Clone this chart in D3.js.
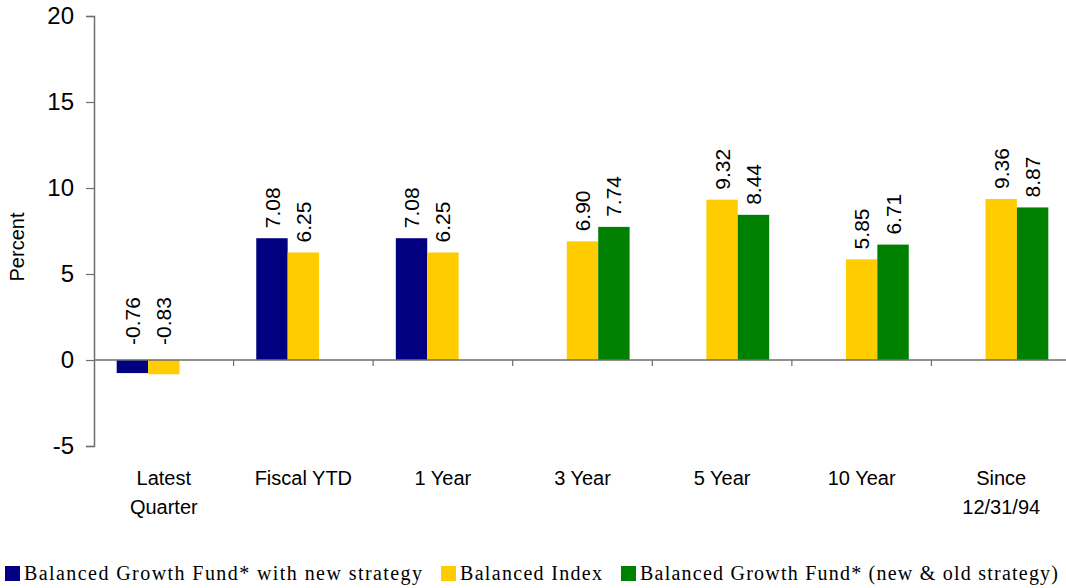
<!DOCTYPE html>
<html>
<head>
<meta charset="utf-8">
<script src="https://cdn.jsdelivr.net/npm/d3@7"></script>
<style>
  html, body { margin: 0; padding: 0; background: #fff; }
  svg { display: block; }
</style>
</head>
<body>
<svg id="chart" width="1066" height="588"></svg>
<script>
// Periods shown along the x axis (multi-line labels split on "\n")
const categories = ["Latest\nQuarter", "Fiscal YTD", "1 Year", "3 Year", "5 Year", "10 Year", "Since\n12/31/94"];

// Series names, colours and returns (null = no bar for that period)
const seriesNames = [
  "Balanced Growth Fund* with new strategy",
  "Balanced Index",
  "Balanced Growth Fund* (new & old strategy)"
];
const seriesColors = ["#000080", "#FFCC00", "#008000"];
const fundNewStrategy = [-0.76, 7.08, 7.08, null, null, null, null];
const balancedIndex   = [-0.83, 6.25, 6.25, 6.90, 9.32, 5.85, 9.36];
const fundNewAndOld   = [null, null, null, 7.74, 8.44, 6.71, 8.87];
const seriesValues = [fundNewStrategy, balancedIndex, fundNewAndOld];

const yTicks = [-5, 0, 5, 10, 15, 20];

const svg = d3.select("#chart");
const plotLeft = 94, plotRight = 1071, plotTop = 16, plotBottom = 446;

const x = d3.scaleBand()
  .domain(categories)
  .range([plotLeft, plotRight])
  .paddingInner(0.325)
  .paddingOuter(0.1625);

const xs = d3.scaleBand()
  .domain(d3.range(seriesNames.length))
  .range([0, x.bandwidth()]);

const y = d3.scaleLinear().domain([-5, 20]).range([plotBottom, plotTop]);

const axisColor = "#6e6e6e";

// Y axis (plain hyphen for negatives)
const yAxis = svg.append("g")
  .attr("transform", `translate(${plotLeft},0)`)
  .call(d3.axisLeft(y).tickValues(yTicks).tickSize(8).tickPadding(12).tickFormat(d => String(d)));
yAxis.select(".domain").attr("stroke", axisColor).attr("stroke-width", 1.5);
yAxis.selectAll(".tick line").attr("stroke", axisColor).attr("stroke-width", 1.2);
yAxis.selectAll(".tick text")
  .attr("font-family", "Liberation Sans, Arial, sans-serif")
  .attr("font-size", 24)
  .attr("fill", "#000");

// Y axis title
svg.append("text")
  .attr("transform", `translate(24,${(plotTop + plotBottom) / 2 + 16}) rotate(-90)`)
  .attr("text-anchor", "middle")
  .attr("font-family", "Liberation Sans, Arial, sans-serif")
  .attr("font-size", 20)
  .text("Percent");

// Bars
const flat = [];
seriesValues.forEach((vals, s) => vals.forEach((v, i) => {
  if (v !== null) flat.push({ s, cat: categories[i], v });
}));

svg.append("g").selectAll("rect")
  .data(flat)
  .join("rect")
  .attr("x", d => x(d.cat) + xs(d.s))
  .attr("width", xs.bandwidth())
  .attr("y", d => y(Math.max(d.v, 0)))
  .attr("height", d => Math.abs(y(d.v) - y(0)))
  .attr("fill", d => seriesColors[d.s]);

// X axis line along zero, with ticks between periods
const xAxisG = svg.append("g");
xAxisG.append("line")
  .attr("x1", plotLeft).attr("x2", plotRight)
  .attr("y1", y(0)).attr("y2", y(0))
  .attr("stroke", axisColor).attr("stroke-width", 1.5);
const boundaries = categories.slice(1).map(c => x(c) - x.step() * x.paddingInner() / 2);
xAxisG.selectAll("line.tick")
  .data(boundaries)
  .join("line")
  .attr("class", "tick")
  .attr("x1", d => d).attr("x2", d => d)
  .attr("y1", y(0)).attr("y2", y(0) + 6)
  .attr("stroke", axisColor).attr("stroke-width", 1.2);

// Value labels, rotated
svg.append("g").selectAll("text")
  .data(flat)
  .join("text")
  .attr("transform", d => {
    const cx = x(d.cat) + xs(d.s) + xs.bandwidth() / 2;
    const cy = d.v >= 0 ? y(d.v) - 10 : y(0) - 15;
    return `translate(${cx},${cy}) rotate(-90)`;
  })
  .attr("dy", "0.36em")
  .attr("font-family", "Liberation Sans, Arial, sans-serif")
  .attr("font-size", 21)
  .text(d => d.v.toFixed(2));

// Category labels
const catG = svg.append("g");
categories.forEach(c => {
  const t = catG.append("text")
    .attr("x", x(c) + x.bandwidth() / 2)
    .attr("y", 485)
    .attr("text-anchor", "middle")
    .attr("font-family", "Liberation Sans, Arial, sans-serif")
    .attr("font-size", 20);
  c.split("\n").forEach((line, k) => {
    t.append("tspan")
      .attr("x", x(c) + x.bandwidth() / 2)
      .attr("dy", k === 0 ? 0 : 29)
      .text(line);
  });
});

// Legend
const legendX = [5, 441, 621];
const legendW = [398, 142, 418];
const legend = svg.append("g");
seriesNames.forEach((name, s) => {
  legend.append("rect")
    .attr("x", legendX[s]).attr("y", 566)
    .attr("width", 15).attr("height", 15)
    .attr("fill", seriesColors[s]);
  legend.append("text")
    .attr("x", legendX[s] + 19).attr("y", 580)
    .attr("font-family", "Liberation Serif, serif")
    .attr("font-size", 20)
    .attr("textLength", legendW[s])
    .attr("lengthAdjust", "spacing")
    .text(name);
});
</script>
</body>
</html>
